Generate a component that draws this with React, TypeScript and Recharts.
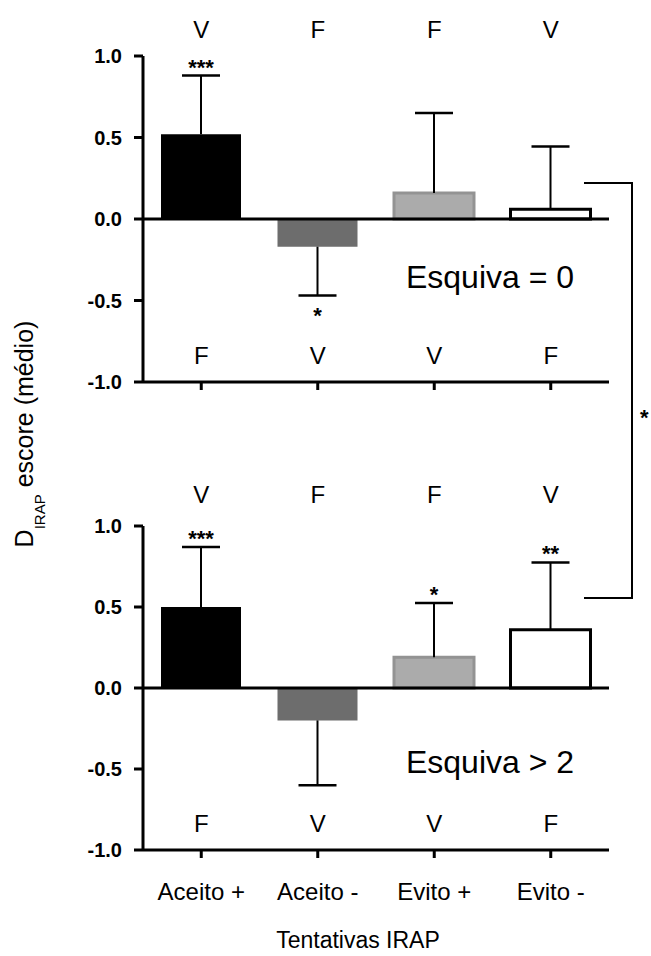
import { BarChart, Bar, XAxis, YAxis, Cell, ReferenceLine } from "recharts";

const categories = ["Aceito +", "Aceito -", "Evito +", "Evito -"];
const topLetters = ["V", "F", "F", "V"];
const bottomLetters = ["F", "V", "V", "F"];
const yTicks = [-1, -0.5, 0, 0.5, 1];

// Esquiva = 0
const meansEsquiva0 = [0.52, -0.17, 0.16, 0.06];
const errorsEsquiva0 = [0.36, 0.3, 0.49, 0.385];
const starsEsquiva0 = ["***", "*", "", ""];

// Esquiva > 2
const meansEsquiva2 = [0.5, -0.2, 0.19, 0.36];
const errorsEsquiva2 = [0.37, 0.4, 0.335, 0.415];
const starsEsquiva2 = ["***", "", "*", "**"];

const FONT = '"Liberation Sans", Arial, Helvetica, sans-serif';
const fills = ["#000000", "#6d6d6d", "#ababab", "#ffffff"];
const strokes = ["#000000", "#6d6d6d", "#939393", "#000000"];
const strokeWidths = [0, 0, 3, 3];

function buildRows(means: number[], errors: number[], stars: string[]) {
  return categories.map((name, i) => ({
    name,
    mean: means[i],
    whisker: means[i] >= 0 ? [means[i], means[i] + errors[i]] : [means[i] - errors[i], means[i]],
    stars: stars[i],
  }));
}

// one-sided error bar with a cap at the far end, plus significance stars
function Whisker(props: any) {
  const { x, y, width, height, payload } = props;
  const cx = x + width / 2;
  const y1 = Math.min(y, y + height);
  const y2 = Math.max(y, y + height);
  const up = payload.mean >= 0;
  const capY = up ? y1 : y2;
  return (
    <g>
      <line x1={cx} x2={cx} y1={y1} y2={y2} stroke="#000" strokeWidth={2} />
      <line x1={x} x2={x + width} y1={capY} y2={capY} stroke="#000" strokeWidth={2.5} />
      {payload.stars ? (
        <text x={cx} y={up ? capY - 1 : capY + 27} textAnchor="middle" fontFamily={FONT} fontWeight="bold" fontSize={22} fill="#000">
          {payload.stars}
        </text>
      ) : null}
    </g>
  );
}

function Panel({ rows, top, showCategories, letterOffset }: any) {
  const height = showCategories ? 486 : 400;
  return (
    <div style={{ position: "absolute", left: 0, top }}>
      <BarChart width={620} height={height} data={rows} margin={{ top: 16, right: 11, bottom: 0, left: 0 }}>
        <XAxis
          xAxisId="letters"
          dataKey="name"
          orientation="top"
          height={40}
          axisLine={false}
          tickLine={false}
          tickSize={0}
          tickMargin={0}
          interval={0}
          tick={(p: any) => (
            <text x={p.x} y={p.y + letterOffset} textAnchor="middle" fontFamily={FONT} fontSize={24} fill="#000">
              {topLetters[p.index]}
            </text>
          )}
        />
        <XAxis
          dataKey="name"
          height={showCategories ? 106 : 18}
          axisLine={{ stroke: "#000", strokeWidth: 3 }}
          tickLine={{ stroke: "#000", strokeWidth: 3 }}
          tickSize={8}
          tickMargin={0}
          interval={0}
          tick={(p: any) => (
            <g>
              <text x={p.x} y={p.y - 26} textAnchor="middle" fontFamily={FONT} fontSize={24} fill="#000">
                {bottomLetters[p.index]}
              </text>
              {showCategories ? (
                <text x={p.x} y={p.y + 42} textAnchor="middle" fontFamily={FONT} fontSize={24} fill="#000">
                  {p.payload.value}
                </text>
              ) : null}
            </g>
          )}
          label={
            showCategories
              ? { value: "Tentativas IRAP", position: "insideBottom", offset: 8, dx: -18, fill: "#000", fontSize: 23, fontFamily: FONT }
              : undefined
          }
        />
        <XAxis xAxisId="w" dataKey="name" hide />
        <YAxis
          width={143}
          domain={[-1, 1]}
          ticks={yTicks}
          interval={0}
          tickFormatter={(v: number) => v.toFixed(1)}
          axisLine={{ stroke: "#000", strokeWidth: 3 }}
          tickLine={{ stroke: "#000", strokeWidth: 3 }}
          tickSize={9}
          tickMargin={12}
          tick={{ fill: "#000", fontSize: 20, fontWeight: "bold", fontFamily: FONT }}
        />
        <Bar dataKey="mean" barSize={80} isAnimationActive={false}>
          {rows.map((_: any, i: number) => (
            <Cell key={i} fill={fills[i]} stroke={strokes[i]} strokeWidth={strokeWidths[i]} />
          ))}
        </Bar>
        <Bar dataKey="whisker" xAxisId="w" barSize={38} shape={Whisker} isAnimationActive={false} />
        <ReferenceLine y={0} stroke="#000" strokeWidth={3} />
      </BarChart>
    </div>
  );
}

export default function App() {
  const rows0 = buildRows(meansEsquiva0, errorsEsquiva0, starsEsquiva0);
  const rows2 = buildRows(meansEsquiva2, errorsEsquiva2, starsEsquiva2);
  return (
    <div style={{ position: "absolute", left: 0, top: 0, width: 651, height: 956, background: "#fff", overflow: "hidden" }}>
      <Panel rows={rows0} top={0} showCategories={false} letterOffset={-18} />
      <Panel rows={rows2} top={470} showCategories={true} letterOffset={-23} />
      <svg width={651} height={956} style={{ position: "absolute", left: 0, top: 0, pointerEvents: "none" }}>
        <text x={490} y={288} textAnchor="middle" fontFamily={FONT} fontSize={32} fill="#000">
          Esquiva = 0
        </text>
        <text x={490} y={773} textAnchor="middle" fontFamily={FONT} fontSize={32} fill="#000">
          Esquiva &gt; 2
        </text>
        <path d="M584 183 H632 V598 H584" fill="none" stroke="#000" strokeWidth={2} />
        <text x={640} y={425} fontFamily={FONT} fontWeight="bold" fontSize={22} fill="#000">
          *
        </text>
        <text transform="translate(33, 434) rotate(-90)" textAnchor="middle" fontFamily={FONT} fontSize={25} fill="#000">
          D
          <tspan fontSize={15} dy={12}>IRAP</tspan>
          <tspan dy={-12}> escore (médio)</tspan>
        </text>
      </svg>
    </div>
  );
}
